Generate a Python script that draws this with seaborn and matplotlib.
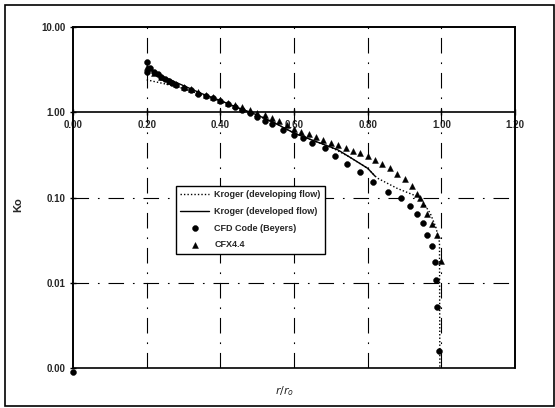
import matplotlib
matplotlib.use("Agg")
import matplotlib.pyplot as plt
from matplotlib.patches import Rectangle
import seaborn as sns
import pandas as pd

# ---- data ----
cfd_x = [0.0, 0.20, 0.20, 0.21, 0.22, 0.23, 0.24, 0.25, 0.26, 0.27, 0.28, 0.30, 0.32, 0.34,
         0.36, 0.38, 0.40, 0.42, 0.44, 0.46, 0.48, 0.50, 0.52, 0.54, 0.57, 0.60, 0.625,
         0.65, 0.685, 0.71, 0.745, 0.78, 0.815, 0.855, 0.89, 0.915, 0.935, 0.95, 0.96,
         0.975, 0.983, 0.986, 0.988, 0.994]
cfd_y = [0.0009, 3.9, 2.95, 3.3, 3.0, 2.8, 2.6, 2.45, 2.3, 2.2, 2.1, 1.95, 1.8, 1.65,
         1.55, 1.45, 1.35, 1.25, 1.15, 1.05, 0.97, 0.88, 0.8, 0.72, 0.62, 0.54, 0.50,
         0.43, 0.38, 0.31, 0.25, 0.20, 0.15, 0.115, 0.10, 0.079, 0.064, 0.05, 0.036,
         0.027, 0.0175, 0.0107, 0.0052, 0.0016]

cfx_x = [0.20, 0.22, 0.24, 0.26, 0.28, 0.30, 0.32, 0.34, 0.36, 0.38, 0.40, 0.42, 0.44,
         0.46, 0.48, 0.50, 0.52, 0.54, 0.56, 0.58, 0.60, 0.62, 0.64, 0.66, 0.68, 0.70,
         0.72, 0.74, 0.76, 0.78, 0.80, 0.82, 0.84, 0.86, 0.88, 0.90, 0.92, 0.935, 0.942,
         0.95, 0.961, 0.975, 0.988, 1.0]
cfx_y = [3.4, 2.9, 2.6, 2.35, 2.15, 2.0, 1.85, 1.72, 1.6, 1.5, 1.4, 1.3, 1.22,
         1.14, 1.06, 0.99, 0.92, 0.86, 0.78, 0.70, 0.64, 0.59, 0.55, 0.51, 0.47, 0.44,
         0.41, 0.38, 0.35, 0.33, 0.305, 0.275, 0.245, 0.22, 0.19, 0.165, 0.135, 0.11, 0.10,
         0.083, 0.064, 0.049, 0.036, 0.018]

dev_x = [0.20, 0.25, 0.30, 0.35, 0.40, 0.45, 0.50, 0.55, 0.60, 0.65, 0.70, 0.72, 0.75, 0.80, 0.82]
dev_y = [3.3, 2.55, 2.05, 1.65, 1.37, 1.12, 0.93, 0.74, 0.57, 0.47, 0.39, 0.36, 0.30, 0.22, 0.178]

devl_x = [0.20, 0.25, 0.30, 0.35, 0.40, 0.45, 0.50, 0.55, 0.60, 0.65, 0.70, 0.75, 0.80,
          0.825, 0.88, 0.942, 0.97, 0.985, 0.995, 0.996]
devl_y = [2.4, 2.15, 1.9, 1.6, 1.37, 1.12, 0.93, 0.74, 0.57, 0.47, 0.39, 0.30, 0.22,
          0.17, 0.128, 0.10, 0.065, 0.045, 0.03, 0.001]

xticks = [0.0, 0.2, 0.4, 0.6, 0.8, 1.0, 1.2]
xtick_labels = ["0.00", "0.20", "0.40", "0.60", "0.80", "1.00", "1.20"]
yticks = [0.001, 0.01, 0.1, 1, 10]
ytick_labels = ["0.00", "0.01", "0.10", "1.00", "10.00"]

sns.set_style("white")
plt.rcParams["font.family"] = ["Liberation Sans", "DejaVu Sans"]

fig = plt.figure(figsize=(5.55, 4.08), dpi=100)
ax = fig.add_axes([73 / 555, 1 - 368 / 408, (515 - 73) / 555, (368 - 27) / 408])

# outer figure border
fig.patches.append(Rectangle((0.009, 0.006), 0.99, 0.981, transform=fig.transFigure,
                             fill=False, edgecolor="black", linewidth=1.2))

sns.lineplot(x=devl_x, y=devl_y, ax=ax, color="black", linestyle=(0, (1, 1.5)),
             linewidth=1.0, label="Kroger (developing flow)", sort=False)
sns.lineplot(x=dev_x, y=dev_y, ax=ax, color="black", linestyle="-",
             linewidth=1.0, label="Kroger (developed flow)", sort=False)
sns.scatterplot(x=cfd_x, y=cfd_y, ax=ax, color="black", marker="o", s=18,
                edgecolor="black", label="CFD Code (Beyers)", clip_on=False, zorder=5)
sns.scatterplot(x=cfx_x, y=cfx_y, ax=ax, color="black", marker="^", s=18,
                edgecolor="black", label="CFX4.4", clip_on=False, zorder=5)

ax.set_yscale("log")
ax.set_xlim(0, 1.2)
ax.set_ylim(0.001, 10)

# grid lines (dash-dot)
grid_ls = (0, (14, 8, 1.5, 8))
for gx in [0.2, 0.4, 0.6, 0.8, 1.0]:
    ax.axvline(gx, color="black", linestyle=grid_ls, linewidth=0.8, zorder=1)
for gy in [0.1, 0.01]:
    ax.axhline(gy, color="black", linestyle=grid_ls, linewidth=0.8, zorder=1)

# x axis crosses at 1.00
ax.spines["bottom"].set_position(("data", 1))
for sp in ["left", "bottom", "top", "right"]:
    ax.spines[sp].set_color("black")
    ax.spines[sp].set_linewidth(1.2)
ax.add_patch(Rectangle((0, 0), 1, 1, transform=ax.transAxes, fill=False,
                       edgecolor="black", linewidth=1.2, clip_on=False, zorder=6))

ax.set_xticks(xticks)
ax.set_xticklabels(xtick_labels, fontsize=7, fontweight="bold")
ax.set_yticks(yticks)
ax.set_yticklabels(ytick_labels, fontsize=7, fontweight="bold")
ax.yaxis.set_minor_locator(matplotlib.ticker.NullLocator())
ax.tick_params(axis="both", which="major", direction="inout", length=5, width=1,
               color="black", left=True, bottom=True, pad=3)

ax.set_xlabel("")
ax.set_ylabel("")
fig.text(18 / 555, 1 - 205 / 408, "Ko", rotation=90, fontsize=8, fontweight="bold",
         ha="center", va="center")
fig.text(285 / 555, 1 - 391 / 408, r"$r/r_o$", fontsize=8, ha="center", va="center")

leg = ax.legend(loc="upper left", bbox_to_anchor=(0.222, 0.548), fancybox=False,
                framealpha=1, edgecolor="black", fontsize=6.5, handlelength=3.2,
                borderpad=0.5, labelspacing=0.85, handletextpad=0.6)
leg.get_frame().set_linewidth(1.0)
for t in leg.get_texts():
    t.set_fontweight("bold")

fig.savefig("out.png", dpi=100)
